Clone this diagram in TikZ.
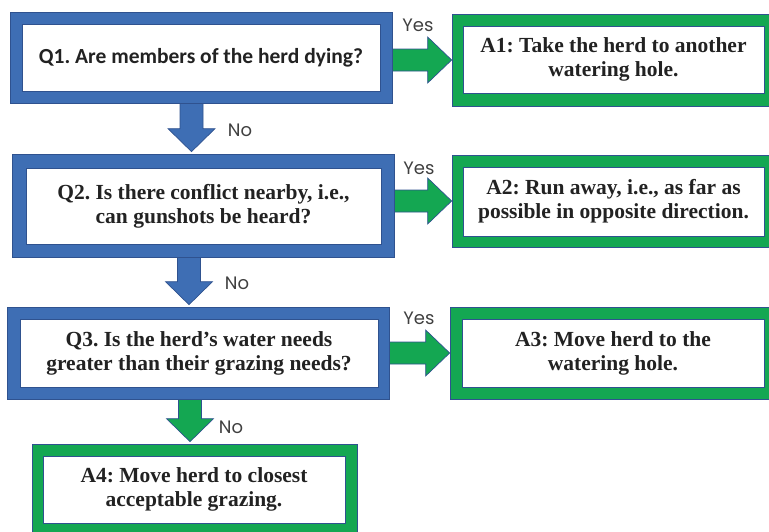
\documentclass[tikz,border=0pt]{standalone}
\usepackage{fontspec}
\setmainfont{Liberation Serif}
\newfontfamily\qfont{Carlito}
\newfontfamily\lblfont{Poppins}
\usetikzlibrary{calc}
\definecolor{boxblue}{RGB}{62,110,180}
\definecolor{boxgreen}{RGB}{20,167,82}
\definecolor{edge}{RGB}{47,82,143}
\definecolor{ink}{RGB}{34,34,34}
\definecolor{lbl}{RGB}{64,64,64}
\frenchspacing

% horizontal block arrow: from the east side of #2 to the west side of #3
\newcommand{\hblock}[3]{%
  \draw[#1] let \p1=(#2.east), \p2=(#3.west) in
    (\x1,\y2+11) -- (\x2-24,\y2+11) -- (\x2-24,\y2+23) -- (\x2,\y2)
    -- (\x2-24,\y2-23) -- (\x2-24,\y2-11) -- (\x1,\y2-11) -- cycle;}
% vertical block arrow: from the south side of #2 down to #3, shifted by #4
\newcommand{\vblock}[4]{%
  \draw[#1] let \p1=($(#2.south)+(#4,0)$), \p2=(#3.north) in
    (\x1-11.5,\y1) -- (\x1-11.5,\y2+25) -- (\x1-23.5,\y2+25) -- (\x1,\y2+2)
    -- (\x1+23.5,\y2+25) -- (\x1+11.5,\y2+25) -- (\x1+11.5,\y1) -- cycle;}

\begin{document}
\begin{tikzpicture}[x=1pt,y=-1pt,
  qframe/.style={fill=boxblue,draw=edge,line width=0.7pt,inner sep=0pt},
  aframe/.style={fill=boxgreen,draw=edge,line width=0.7pt,inner sep=0pt},
  panel/.style={fill=white,draw=edge,line width=0.7pt,inner sep=0pt,
    align=center,text=ink,font=\fontsize{21.5}{24}\selectfont\bfseries},
  qarrow/.style={fill=boxblue,draw=edge,line width=0.7pt},
  aarrow/.style={fill=boxgreen,draw=edge,line width=0.7pt},
  answer/.style={inner sep=0pt,text=lbl,font=\lblfont\fontsize{18}{18}\selectfont}]
\useasboundingbox (0,0) rectangle (769,531);
\clip (0,0) rectangle (769,531);

% outer frames
\node[qframe,minimum width=382pt,minimum height=91pt]  (q1o) at (201,57.5) {};
\node[qframe,minimum width=382pt,minimum height=103pt] (q2o) at (203,205.5) {};
\node[qframe,minimum width=382pt,minimum height=92pt]  (q3o) at (198,353) {};
\node[aframe,minimum width=324pt,minimum height=92pt]  (a1o) at (614,60) {};
\node[aframe,minimum width=324pt,minimum height=92pt]  (a2o) at (614,201) {};
\node[aframe,minimum width=326pt,minimum height=92pt]  (a3o) at (613,353) {};
\node[aframe,minimum width=325pt,minimum height=91pt]  (a4o) at (194.5,489.5) {};

% connectors
\hblock{aarrow}{q1o}{a1o}
\hblock{aarrow}{q2o}{a2o}
\hblock{aarrow}{q3o}{a3o}
\vblock{qarrow}{q1o}{q2o}{-9.5}
\vblock{qarrow}{q2o}{q3o}{-14}
\vblock{aarrow}{q3o}{a4o}{-8}

% redraw frames over the arrow ends
\node[qframe,minimum width=382pt,minimum height=91pt]  at (q1o) {};
\node[qframe,minimum width=382pt,minimum height=103pt] at (q2o) {};
\node[qframe,minimum width=382pt,minimum height=92pt]  at (q3o) {};
\node[aframe,minimum width=324pt,minimum height=92pt]  at (a1o) {};
\node[aframe,minimum width=324pt,minimum height=92pt]  at (a2o) {};
\node[aframe,minimum width=326pt,minimum height=92pt]  at (a3o) {};
\node[aframe,minimum width=325pt,minimum height=91pt]  at (a4o) {};

% inner panels with text
\node[panel,minimum width=358pt,minimum height=67pt,font=\qfont\fontsize{21.5}{24}\selectfont\bfseries]
  (q1) at (201,57.5) {Q1. Are members of the herd dying?};
\node[panel,minimum width=355pt,minimum height=76pt] (q2) at (203.5,206)
  {Q2. Is there conflict nearby, i.e.,\\ can gunshots be heard?};
\node[panel,minimum width=358pt,minimum height=68pt] (q3) at (199,353)
  {Q3. Is the herd’s water needs\\ greater than their grazing needs?};
\node[panel,minimum width=301pt,minimum height=67pt] (a1) at (613.5,59.5)
  {A1: Take the herd to another\\ watering hole.};
\node[panel,minimum width=301pt,minimum height=69pt] (a2) at (613.5,201.5)
  {A2: Run away, i.e., as far as\\ possible in opposite direction.};
\node[panel,minimum width=302pt,minimum height=68pt] (a3) at (613,353)
  {A3: Move herd to the\\ watering hole.};
\node[panel,minimum width=302pt,minimum height=67pt] (a4) at (194,489.5)
  {A4: Move herd to closest\\ acceptable grazing.};

% branch labels
\node[answer] (y1) at (418,25)  {Yes};
\node[answer] (y2) at (419,168) {Yes};
\node[answer] (y3) at (419,318) {Yes};
\node[answer] (n1) at (240,130) {No};
\node[answer] (n2) at (237,283) {No};
\node[answer] (n3) at (231,427) {No};
\end{tikzpicture}
\end{document}
